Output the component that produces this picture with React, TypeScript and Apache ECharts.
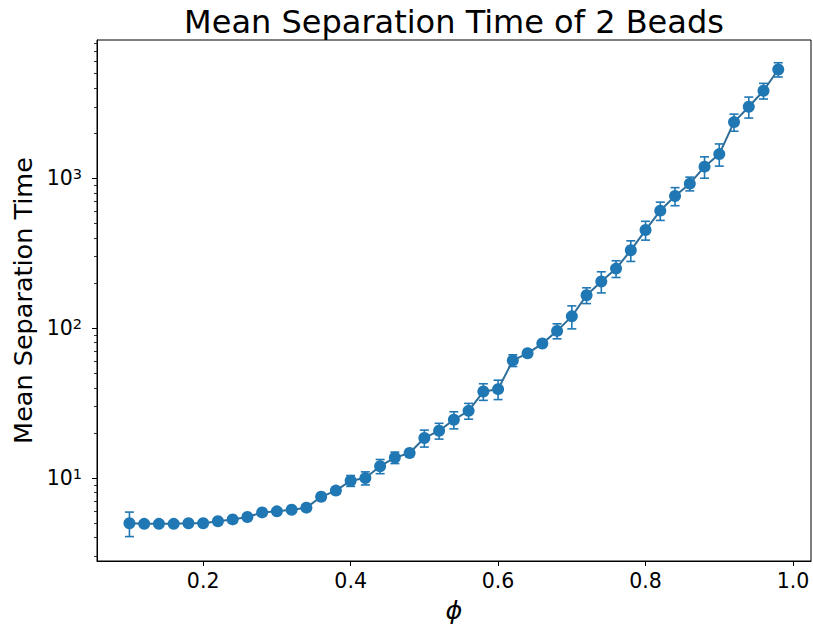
import React, { useEffect, useRef } from "react";
import * as echarts from "echarts";

const chartTitle = "Mean Separation Time of 2 Beads";
const xLabel = "ϕ";
const yLabel = "Mean Separation Time";

const phi = [
  0.1, 0.12, 0.14, 0.16, 0.18, 0.2, 0.22, 0.24, 0.26, 0.28, 0.3, 0.32, 0.34, 0.36, 0.38,
  0.4, 0.42, 0.44, 0.46, 0.48, 0.5, 0.52, 0.54, 0.56, 0.58, 0.6, 0.62, 0.64, 0.66, 0.68,
  0.7, 0.72, 0.74, 0.76, 0.78, 0.8, 0.82, 0.84, 0.86, 0.88, 0.9, 0.92, 0.94, 0.96, 0.98,
];

const meanTime = [
  5.0, 4.95, 4.95, 4.95, 5.0, 5.0, 5.15, 5.3, 5.5, 5.9, 6.0, 6.15, 6.35, 7.5, 8.25,
  9.6, 10.0, 12.0, 13.7, 14.7, 18.5, 20.7, 24.5, 28.1, 37.8, 39.2, 61, 68, 79, 96,
  120, 166, 205, 250, 331, 452, 609, 762, 922, 1197, 1452, 2373, 3006, 3843, 5329,
];

const stdErr = [
  0.93, 0.15, 0.12, 0.12, 0.13, 0.15, 0.18, 0.2, 0.22, 0.25, 0.25, 0.28, 0.3, 0.4, 0.45,
  0.8, 1.0, 1.3, 1.2, 0.8, 2.4, 2.5, 3.2, 3.4, 4.8, 5.8, 5.5, 3.5, 3.5, 11,
  21, 20, 33, 32, 52, 65, 85, 105, 97, 195, 245, 310, 480, 460, 580,
];

const xTicks = [0.2, 0.4, 0.6, 0.8, 1.0];
const yMajorTicks = [10, 100, 1000];
const yMinorTicks = [
  3, 4, 5, 6, 7, 8, 9, 20, 30, 40, 50, 60, 70, 80, 90,
  200, 300, 400, 500, 600, 700, 800, 900, 2000, 3000, 4000, 5000, 6000, 7000, 8000,
];

const X_MIN = 0.056;
const X_MAX = 1.0244;
const Y_MIN = 2.797;
const Y_MAX = 8380;

const BLUE = "#1f77b4";
const FONT = "DejaVu Sans";

export default function App() {
  const ref = useRef<HTMLDivElement>(null);

  useEffect(() => {
    if (!ref.current) return;
    const chart = echarts.init(ref.current, undefined, { renderer: "svg" });

    const lineData = phi.map((x, i) => [x, meanTime[i]]);
    const errData = phi.map((x, i) => [x, meanTime[i] - stdErr[i], meanTime[i] + stdErr[i]]);

    const option: any = {
      animation: false,
      backgroundColor: "#ffffff",
      textStyle: { fontFamily: FONT },
      grid: {
        left: 97,
        top: 40,
        right: 2,
        bottom: 66,
        show: true,
        borderColor: "#000000",
        borderWidth: 1,
        backgroundColor: "transparent",
      },
      graphic: [
        {
          type: "text",
          x: 454,
          y: 22,
          style: {
            text: chartTitle,
            fontFamily: FONT,
            fontSize: 32,
            fill: "#000000",
            textAlign: "center",
            textVerticalAlign: "middle",
          },
        },
      ],
      xAxis: {
        type: "value",
        min: X_MIN,
        max: X_MAX,
        name: xLabel,
        nameLocation: "middle",
        nameGap: 36,
        nameTextStyle: { fontFamily: FONT, fontSize: 25.5, fontStyle: "italic", color: "#000" },
        axisLine: { show: true, onZero: false, lineStyle: { color: "#000", width: 1 } },
        axisTick: {
          show: true,
          inside: false,
          length: 5,
          lineStyle: { color: "#000", width: 1 },
          customValues: xTicks,
        },
        axisLabel: {
          show: true,
          margin: 9,
          fontFamily: FONT,
          fontSize: 20.5,
          color: "#000",
          customValues: xTicks,
          formatter: (v: number) => v.toFixed(1),
        },
        splitLine: { show: false },
      },
      yAxis: [
        {
          type: "log",
          logBase: 10,
          min: Y_MIN,
          max: Y_MAX,
          position: "left",
          name: yLabel,
          nameLocation: "middle",
          nameGap: 55,
          nameTextStyle: { fontFamily: FONT, fontSize: 25.5, color: "#000" },
          axisLine: { show: true, lineStyle: { color: "#000", width: 1 } },
          axisTick: {
            show: true,
            inside: false,
            length: 5,
            lineStyle: { color: "#000", width: 1 },
            customValues: yMajorTicks,
          },
          axisLabel: {
            show: true,
            margin: 15,
            color: "#000",
            customValues: yMajorTicks,
            formatter: (v: number) => `{b|10}{s|${Math.round(Math.log10(v))}}`,
            rich: {
              b: { fontFamily: FONT, fontSize: 20.5, color: "#000", lineHeight: 24 },
              s: { fontFamily: FONT, fontSize: 14.5, color: "#000", lineHeight: 24, verticalAlign: "top" },
            },
          },
          splitLine: { show: false },
          minorTick: { show: false },
        },
        {
          type: "log",
          logBase: 10,
          min: Y_MIN,
          max: Y_MAX,
          position: "left",
          offset: 0,
          axisLine: { show: false },
          axisTick: {
            show: true,
            inside: false,
            length: 3,
            lineStyle: { color: "#000", width: 0.8 },
            customValues: yMinorTicks,
          },
          axisLabel: { show: false },
          splitLine: { show: false },
        },
      ],
      series: [
        {
          type: "custom",
          name: "err",
          data: errData,
          silent: true,
          z: 2,
          renderItem: (params: any, api: any) => {
            const x = api.value(0);
            const lo = api.coord([x, api.value(1)]);
            const hi = api.coord([x, api.value(2)]);
            const cap = 4.5;
            const style = { stroke: BLUE, lineWidth: 1.6 };
            return {
              type: "group",
              children: [
                { type: "line", shape: { x1: lo[0], y1: lo[1], x2: hi[0], y2: hi[1] }, style },
                { type: "line", shape: { x1: lo[0] - cap, y1: lo[1], x2: lo[0] + cap, y2: lo[1] }, style },
                { type: "line", shape: { x1: hi[0] - cap, y1: hi[1], x2: hi[0] + cap, y2: hi[1] }, style },
              ],
            };
          },
        },
        {
          type: "line",
          name: "mean",
          data: lineData,
          z: 3,
          symbol: "circle",
          symbolSize: 12,
          showSymbol: true,
          itemStyle: { color: BLUE, borderWidth: 0 },
          lineStyle: { color: "#2f6d99", width: 2 },
          emphasis: { disabled: true },
        },
      ],
    };

    chart.setOption(option);
    return () => chart.dispose();
  }, []);

  return (
    <div
      ref={ref}
      style={{ position: "fixed", left: 0, top: 0, width: 813, height: 628, background: "#fff" }}
    />
  );
}
